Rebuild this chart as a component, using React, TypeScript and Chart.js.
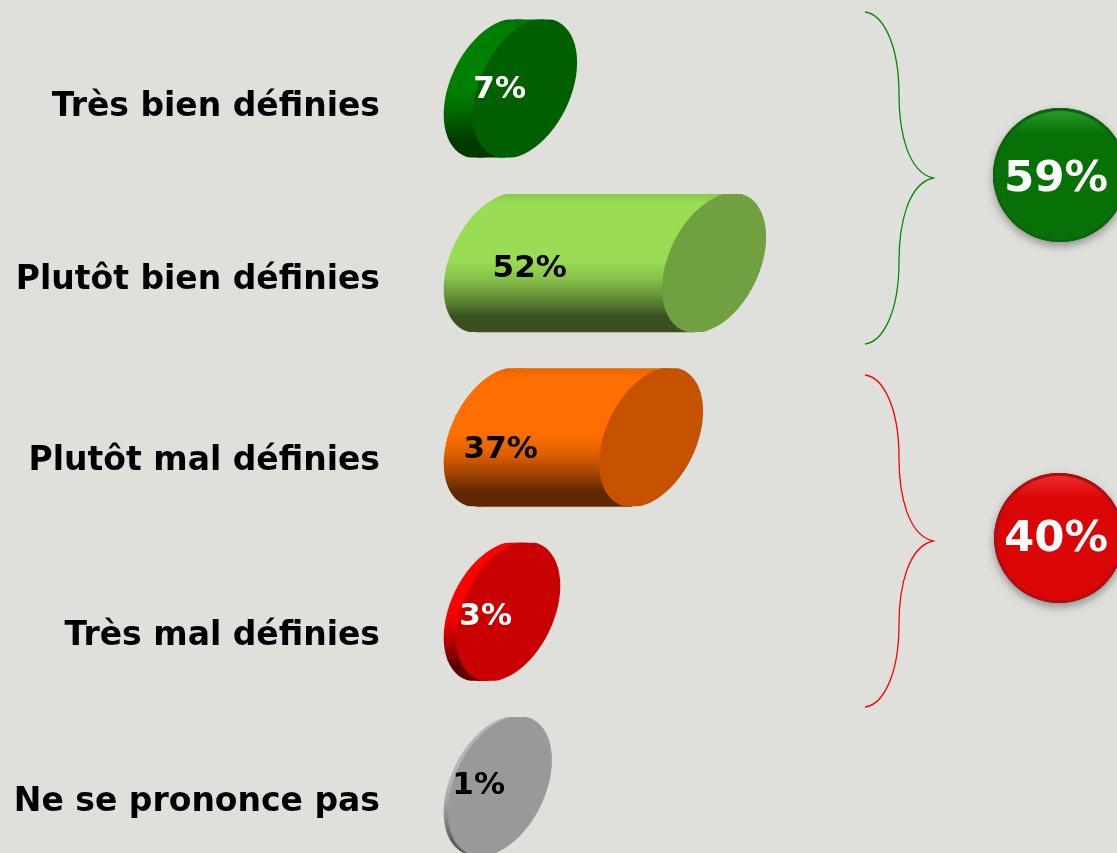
import React, { useEffect, useRef } from "react";
import { Chart, registerables } from "chart.js";

Chart.register(...registerables);

const categories = [
  "Très bien définies",
  "Plutôt bien définies",
  "Plutôt mal définies",
  "Très mal définies",
  "Ne se prononce pas",
];
const shares = [7, 52, 37, 3, 1];
const groupLabels = ["59%", "40%"];

const BG = "#DFE0DB";
const bodyColors = [
  { edge: [0, 112, 0], light: [0, 128, 0], dark: [0, 56, 0], cap: "#006000", strip: "rgba(0,96,0,0)", text: "#ffffff" },
  { edge: [140, 200, 80], light: [153, 221, 85], dark: [58, 80, 32], cap: "#70A040", strip: "#A9B39A", text: "#000000" },
  { edge: [232, 100, 0], light: [255, 110, 0], dark: [96, 40, 0], cap: "#C65200", strip: "#9A6A48", text: "#000000" },
  { edge: [255, 0, 0], light: [255, 0, 0], dark: [96, 0, 0], cap: "#C80000", strip: "rgba(0,0,0,0)", text: "#ffffff" },
  { edge: [184, 184, 184], light: [180, 180, 180], dark: [96, 96, 96], cap: "#999999", strip: "rgba(0,0,0,0)", text: "#000000" },
];
const valueLabelOffsets = [[4, 1], [34, 6], [5, 13], [-10, 5], [-17, 0]];
const categoryLabelOffsets = [19, 18, 24, 25, 16];

const groupStyles = [
  { stroke: "#0A880A", dy: 0, cx: 1060, cy: 175, rx: 67, ry: 67, base: "#077007", rim: "#0E5E0E", glow: "#2D9E2D", textY: 180 },
  { stroke: "#FF0000", dy: 363, cx: 1059, cy: 538, rx: 65, ry: 65, base: "#DA0505", rim: "#9A1212", glow: "#EE3030", textY: 540 },
];

const HALF_W = 52;
const TILT = -26;
const OVERSHOOT = 1;

function mix(a: number[], b: number[], t: number) {
  const p = a.map((v, i) => Math.round(v + (b[i] - v) * t));
  return `rgb(${p[0]},${p[1]},${p[2]})`;
}

function ellipsePath(ctx: CanvasRenderingContext2D, cx: number, cy: number, halfH: number) {
  const full = halfH + OVERSHOOT;
  const c = Math.sqrt(full * full - TILT * TILT);
  ctx.save();
  ctx.transform(HALF_W, TILT, 0, c, cx, cy);
  ctx.beginPath();
  ctx.arc(0, 0, 1, 0, Math.PI * 2);
  ctx.closePath();
  ctx.restore();
}

const cylinderPlugin = {
  id: "cylinders",
  afterDatasetsDraw(chart: any) {
    const ctx: CanvasRenderingContext2D = chart.ctx;
    const meta = chart.getDatasetMeta(0);
    const yScale = chart.scales.y;

    ctx.save();
    meta.data.forEach((el: any, i: number) => {
      const col = bodyColors[i];
      const halfH = el.height / 2;
      const top = el.y - halfH;
      const bottom = el.y + halfH;
      const tx = (HALF_W * -TILT) / (halfH + OVERSHOOT);

      ctx.save();
      ctx.beginPath();
      ctx.rect(0, top, chart.width, el.height + 1);
      ctx.clip();
      ctx.fillStyle = col.strip;
      ctx.fillRect(el.base - tx, bottom - 1, el.x - el.base, 2);
      ctx.restore();

      ctx.save();
      ctx.beginPath();
      ctx.rect(0, top, chart.width, el.height);
      ctx.clip();

      const g = ctx.createLinearGradient(0, top, 0, bottom);
      g.addColorStop(0, mix(col.edge, col.edge, 0));
      g.addColorStop(0.07, mix(col.light, col.light, 0));
      g.addColorStop(0.48, mix(col.light, col.light, 0));
      g.addColorStop(0.62, mix(col.light, col.dark, 0.2));
      g.addColorStop(0.77, mix(col.light, col.dark, 0.62));
      g.addColorStop(0.89, mix(col.dark, col.dark, 0));
      g.addColorStop(1, mix(col.dark, col.dark, 0));
      ctx.fillStyle = g;

      ellipsePath(ctx, el.base, el.y, halfH);
      ctx.fill();
      ctx.beginPath();
      ctx.moveTo(el.base + tx, top - OVERSHOOT);
      ctx.lineTo(el.x + tx, top - OVERSHOOT);
      ctx.lineTo(el.x - tx, bottom + OVERSHOOT);
      ctx.lineTo(el.base - tx, bottom + OVERSHOOT);
      ctx.closePath();
      ctx.fill();

      ctx.fillStyle = col.cap;
      ellipsePath(ctx, el.x, el.y, halfH);
      ctx.fill();
      ctx.restore();

      ctx.fillStyle = col.text;
      ctx.font = "bold 31px 'DejaVu Sans'";
      ctx.textAlign = "center";
      ctx.textBaseline = "middle";
      ctx.fillText(
        String(shares[i]) + "%",
        el.base + valueLabelOffsets[i][0],
        el.y + valueLabelOffsets[i][1]
      );
    });

    ctx.fillStyle = "#000000";
    ctx.font = "bold 33px 'DejaVu Sans'";
    ctx.textAlign = "right";
    ctx.textBaseline = "middle";
    yScale.ticks.forEach((t: any, i: number) => {
      ctx.fillText(
        String(yScale.getLabelForValue(t.value)),
        380,
        yScale.getPixelForTick(i) + categoryLabelOffsets[i]
      );
    });

    groupStyles.forEach((s, i) => {
      const d = s.dy;
      ctx.strokeStyle = s.stroke;
      ctx.lineWidth = 1.3;
      ctx.beginPath();
      ctx.moveTo(865, 12 + d);
      ctx.bezierCurveTo(882, 14 + d, 899, 42 + d, 899, 95 + d);
      ctx.bezierCurveTo(899, 132 + d, 908, 172 + d, 933, 178 + d);
      ctx.bezierCurveTo(908, 184 + d, 899, 224 + d, 899, 261 + d);
      ctx.bezierCurveTo(899, 314 + d, 882, 342 + d, 865, 344 + d);
      ctx.stroke();

      ctx.save();
      ctx.shadowColor = "rgba(0,0,0,0.35)";
      ctx.shadowBlur = 9;
      ctx.shadowOffsetY = 4;
      ctx.fillStyle = s.rim;
      ctx.beginPath();
      ctx.ellipse(s.cx, s.cy, s.rx, s.ry, 0, 0, Math.PI * 2);
      ctx.fill();
      ctx.restore();

      const rg = ctx.createRadialGradient(s.cx, s.cy, s.rx * 0.8, s.cx, s.cy, s.rx);
      rg.addColorStop(0, s.base);
      rg.addColorStop(0.7, s.base);
      rg.addColorStop(1, s.rim);
      ctx.fillStyle = rg;
      ctx.beginPath();
      ctx.ellipse(s.cx, s.cy, s.rx, s.ry, 0, 0, Math.PI * 2);
      ctx.fill();

      ctx.save();
      ctx.beginPath();
      ctx.ellipse(s.cx, s.cy, s.rx - 3, s.ry - 3, 0, 0, Math.PI * 2);
      ctx.clip();
      const hl = ctx.createLinearGradient(0, s.cy - s.ry, 0, s.cy - s.ry + 26);
      hl.addColorStop(0, s.glow);
      hl.addColorStop(1, s.base);
      ctx.fillStyle = hl;
      ctx.beginPath();
      ctx.ellipse(s.cx, s.cy - 3, s.rx - 8, s.ry - 3, 0, Math.PI, Math.PI * 2);
      ctx.fill();
      ctx.restore();

      ctx.fillStyle = "#ffffff";
      ctx.font = "bold 43.5px 'DejaVu Sans'";
      ctx.textAlign = "center";
      ctx.textBaseline = "middle";
      ctx.fillText(groupLabels[i], 1056, s.textY);
    });
    ctx.restore();
  },
};

export default function App() {
  const ref = useRef<HTMLCanvasElement | null>(null);

  useEffect(() => {
    if (!ref.current) return;
    const chart = new Chart(ref.current, {
      type: "bar",
      data: {
        labels: categories,
        datasets: [
          {
            data: shares,
            backgroundColor: "transparent",
            barThickness: 138,
          },
        ],
      },
      options: {
        indexAxis: "y",
        animation: false,
        responsive: false,
        layout: { padding: { left: 444, right: 0, top: 88.5, bottom: 67 } },
        plugins: { legend: { display: false }, tooltip: { enabled: false } },
        scales: {
          x: { display: false, min: -12.3, max: 147.9 },
          y: { display: false, offset: false },
        },
      },
      plugins: [cylinderPlugin],
    } as any);
    return () => chart.destroy();
  }, []);

  return (
    <div
      style={{
        position: "fixed",
        left: 0,
        top: 0,
        width: 1117,
        height: 853,
        overflow: "hidden",
        background: BG,
      }}
    >
      <canvas ref={ref} width={1117} height={853} style={{ display: "block" }} />
    </div>
  );
}
